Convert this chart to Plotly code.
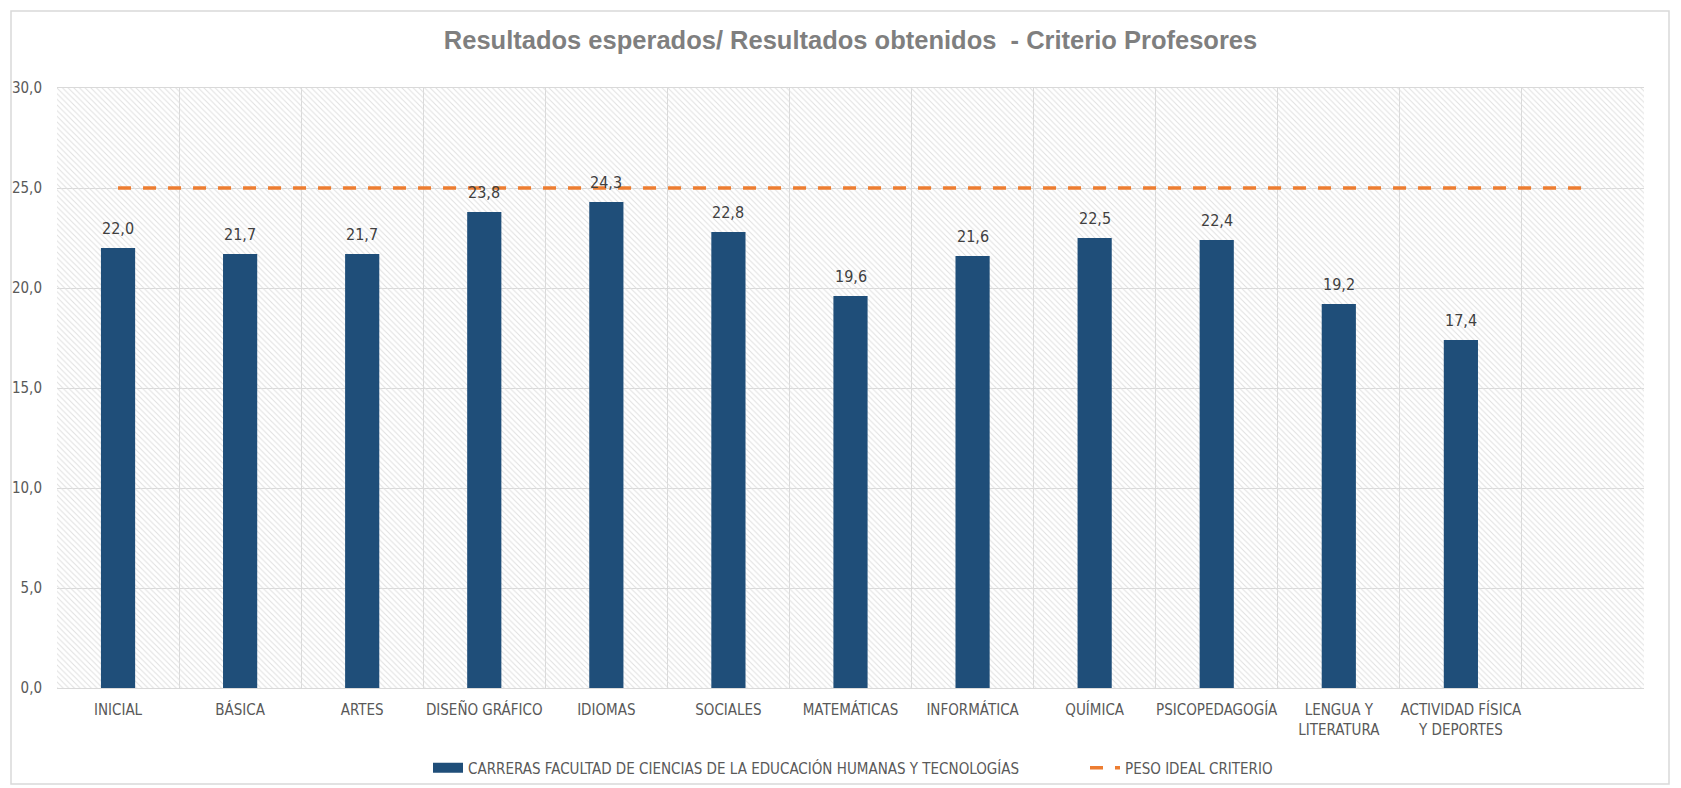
import plotly.graph_objects as go

CATEGORIES = ["INICIAL", "BÁSICA", "ARTES", "DISEÑO GRÁFICO", "IDIOMAS", "SOCIALES",
              "MATEMÁTICAS", "INFORMÁTICA", "QUÍMICA", "PSICOPEDAGOGÍA",
              "LENGUA Y<br>LITERATURA", "ACTIVIDAD FÍSICA<br>Y DEPORTES", " "]
BAR_CATEGORIES = CATEGORIES[:12]
VALUES = [22.0, 21.7, 21.7, 23.8, 24.3, 22.8, 19.6, 21.6, 22.5, 22.4, 19.2, 17.4]
IDEAL = [25] * len(CATEGORIES)
Y_MAX = 30
Y_TICKS = [0, 5, 10, 15, 20, 25, 30]

BAR_NAME = "CARRERAS FACULTAD DE CIENCIAS DE LA EDUCACIÓN HUMANAS Y TECNOLOGÍAS"
LINE_NAME = "PESO IDEAL CRITERIO"

BAR_COLOR = "#1f4e79"
LINE_COLOR = "#ed7d31"
FONT = "Liberation Sans Narrow, DejaVu Sans Condensed, Liberation Sans, Arial"

W, H = 1681, 788
ML, MR, MT, MB = 57, 37, 88, 100
PW, PH = W - ML - MR, H - MT - MB

fig = go.Figure()

# hatched plot background
fig.add_trace(go.Bar(
    x=[CATEGORIES[len(CATEGORIES) // 2]], y=[Y_MAX], width=[len(CATEGORIES)],
    marker=dict(color="rgba(0,0,0,0)", line=dict(width=0),
                pattern=dict(shape="\\", fgcolor="#e0e0e0", bgcolor="rgba(0,0,0,0)",
                             size=4, solidity=0.25, fillmode="replace")),
    showlegend=False, hoverinfo="skip",
))

fig.add_trace(go.Bar(
    x=BAR_CATEGORIES, y=VALUES, name=BAR_NAME, width=0.28,
    marker=dict(color=BAR_COLOR, line=dict(width=0)),
    showlegend=False,
))

# legend entry for bars (wide rectangle like the original)
fig.add_trace(go.Scatter(
    x=[None], y=[None], name=BAR_NAME, mode="lines",
    line=dict(color=BAR_COLOR, width=10),
))

fig.add_trace(go.Scatter(
    x=CATEGORIES, y=IDEAL, name=LINE_NAME, mode="lines",
    line=dict(color=LINE_COLOR, width=3.5, dash="13px,12px"),
))

annotations = [
    dict(x=c, y=v, xref="x", yref="y", text=f"{v:.1f}".replace(".", ","),
         showarrow=False, yanchor="bottom", yshift=8,
         font=dict(family=FONT, size=16, color="#404040"))
    for c, v in zip(BAR_CATEGORIES, VALUES)
]

fig.update_layout(
    width=W, height=H,
    barmode="overlay",
    separators=",.",
    paper_bgcolor="white", plot_bgcolor="white",
    margin=dict(l=ML, r=MR, t=MT, b=MB, autoexpand=False),
    title=dict(text="<b>Resultados esperados/ Resultados obtenidos  - Criterio Profesores</b>",
               x=0.5, xref="paper", y=1 - 40 / H, yanchor="middle",
               font=dict(family="Liberation Sans, Arial", size=25.5, color="#7f7f7f")),
    font=dict(family=FONT, size=15, color="#595959"),
    showlegend=True,
    legend=dict(orientation="h", x=(428 - ML) / PW, xanchor="left",
                y=-(768 - (MT + PH)) / PH, yanchor="middle",
                bgcolor="rgba(0,0,0,0)",
                font=dict(family=FONT, size=15, color="#595959"),
                traceorder="normal", entrywidth=612, entrywidthmode="pixels"),
    annotations=annotations,
    shapes=[dict(type="rect", xref="paper", yref="paper",
                 x0=(11 - ML) / PW, x1=(1669 - ML) / PW,
                 y0=(MT + PH - 784) / PH, y1=(MT + PH - 11) / PH,
                 line=dict(color="#d9d9d9", width=1.5), fillcolor="rgba(0,0,0,0)", layer="above")],
)

fig.update_xaxes(
    type="category", categoryorder="array", categoryarray=CATEGORIES,
    tickson="boundaries", showgrid=True, gridcolor="#d9d9d9", gridwidth=1,
    ticks="", showline=True, linecolor="#d9d9d9", linewidth=1, mirror=True,
    tickfont=dict(family=FONT, size=15, color="#595959"), tickangle=0,
    ticklabelstandoff=8, automargin=False,
    range=[-0.5, len(CATEGORIES) - 0.5],
)
fig.update_yaxes(
    range=[0, Y_MAX], tickvals=Y_TICKS, tickformat=".1f",
    showgrid=True, gridcolor="#d9d9d9", gridwidth=1, zeroline=False,
    ticks="", ticklabelstandoff=14, automargin=False,
    tickfont=dict(family=FONT, size=15, color="#595959"),
)

fig.write_html("out.html", config={"displayModeBar": False},
               post_script="document.body.style.margin='0';")
